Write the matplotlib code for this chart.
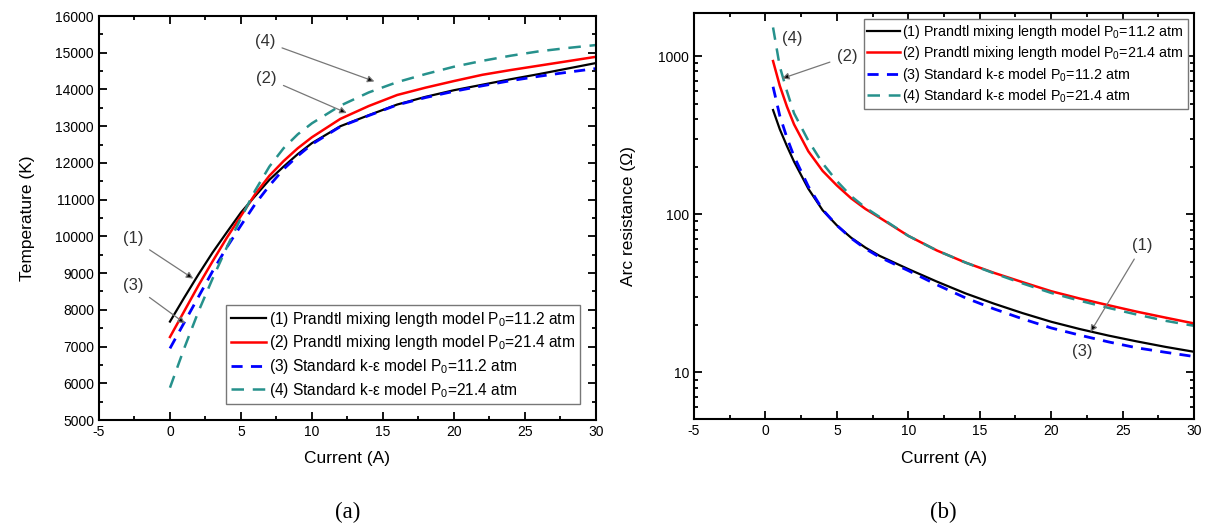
import numpy as np
import matplotlib.pyplot as plt
from matplotlib.ticker import MultipleLocator, LogLocator, NullFormatter

plt.rcParams['font.family'] = ['Liberation Sans', 'DejaVu Sans']
plt.rcParams['mathtext.fontset'] = 'custom'
plt.rcParams['mathtext.rm'] = 'Liberation Sans'
plt.rcParams['mathtext.it'] = 'Liberation Sans'
plt.rcParams['axes.unicode_minus'] = False

# (a) temperature vs current
cur_a = [0, 1, 2, 3, 4, 5, 6, 7, 8, 9, 10, 12, 14, 16, 18, 20, 22, 24, 26, 28, 30]
temp_prandtl_11 = [7680, 8330, 8960, 9560, 10110, 10650, 11100, 11540, 11900, 12240, 12540,
                   13000, 13300, 13590, 13800, 13980, 14130, 14280, 14420, 14570, 14720]
temp_prandtl_21 = [7260, 7960, 8660, 9320, 9960, 10560, 11150, 11650, 12050, 12400, 12700,
                   13200, 13550, 13850, 14050, 14230, 14400, 14530, 14650, 14770, 14890]
temp_ke_11 = [6950, 7650, 8350, 9050, 9700, 10300, 10880, 11380, 11830, 12190, 12510,
              12990, 13290, 13580, 13780, 13950, 14100, 14240, 14360, 14470, 14570]
temp_ke_21 = [5880, 6950, 7950, 8850, 9700, 10500, 11250, 11900, 12400, 12780, 13080,
              13560, 13920, 14200, 14420, 14620, 14780, 14920, 15040, 15130, 15210]

# (b) arc resistance vs current
cur_b = [0.53, 1, 1.5, 2, 3, 4, 5, 6, 7, 8, 10, 12, 14, 16, 18, 20, 22, 24, 26, 28, 30]
res_prandtl_11 = [456, 345, 270, 215, 145, 106, 85, 71, 61.5, 54.5, 45, 37.5, 31.6, 27.2, 23.7,
                  20.9, 18.8, 17.1, 15.7, 14.5, 13.5]
res_prandtl_21 = [930, 650, 480, 370, 250, 188, 152, 126, 108, 95, 73, 59, 49.5, 42.6, 37.2,
                  32.6, 29.3, 26.6, 24.2, 22.2, 20.4]
res_ke_11 = [640, 420, 305, 232, 150, 107, 85, 70.5, 60.5, 53.5, 44, 35.8, 29.6, 25.2, 21.8,
             19.1, 17.2, 15.6, 14.3, 13.4, 12.6]
res_ke_21 = [1517, 860, 600, 435, 292, 210, 162, 130, 110, 96, 73, 59, 49.5, 42.3, 36.5,
             31.8, 28.4, 25.6, 23.2, 21.2, 19.7]

labels = ['(1) Prandtl mixing length model P$_0$=11.2 atm',
          '(2) Prandtl mixing length model P$_0$=21.4 atm',
          '(3) Standard k-\u03b5 model P$_0$=11.2 atm',
          '(4) Standard k-\u03b5 model P$_0$=21.4 atm']

teal = '#26918c'
styles = [dict(color='black', lw=1.6),
          dict(color='red', lw=1.8),
          dict(color='blue', lw=2.0, dashes=(4, 3)),
          dict(color=teal, lw=1.8, dashes=(5, 3.5))]

fig = plt.figure(figsize=(12.1, 5.26), dpi=100)
ax1 = fig.add_axes([0.0818, 0.2015, 0.4107, 0.768])
ax2 = fig.add_axes([0.5736, 0.2028, 0.4132, 0.773])

for ys, st, lab in zip([temp_prandtl_11, temp_prandtl_21, temp_ke_11, temp_ke_21], styles, labels):
    ax1.plot(cur_a, ys, label=lab, **st)
for ys, st, lab in zip([res_prandtl_11, res_prandtl_21, res_ke_11, res_ke_21], styles, labels):
    ax2.plot(cur_b, ys, label=lab, **st)

ax1.set_xlim(-5, 30)
ax1.set_ylim(5000, 16000)
ax1.xaxis.set_major_locator(MultipleLocator(5))
ax1.xaxis.set_minor_locator(MultipleLocator(2.5))
ax1.yaxis.set_major_locator(MultipleLocator(1000))
ax1.yaxis.set_minor_locator(MultipleLocator(500))
ax1.set_xlabel('Current (A)', fontsize=12.5, labelpad=9)
ax1.set_ylabel('Temperature (K)', fontsize=12.5, labelpad=15)

ax2.set_yscale('log')
ax2.set_xlim(-5, 30)
ax2.set_ylim(5.05, 1880)
ax2.xaxis.set_major_locator(MultipleLocator(5))
ax2.xaxis.set_minor_locator(MultipleLocator(2.5))
ax2.yaxis.set_minor_locator(LogLocator(base=10, subs=np.arange(2, 10)))
ax2.yaxis.set_minor_formatter(NullFormatter())
ax2.set_yticks([10, 100, 1000])
ax2.set_yticklabels(['10', '100', '1000'])
ax2.set_xlabel('Current (A)', fontsize=12.5, labelpad=9)
ax2.set_ylabel('Arc resistance (\u03a9)', fontsize=12.5, labelpad=16)

for ax in (ax1, ax2):
    ax.tick_params(which='both', direction='in', top=True, right=True, labelsize=10, width=1.3)
    ax.tick_params(which='major', length=5.5)
    ax.tick_params(which='minor', length=3)
    for sp in ax.spines.values():
        sp.set_linewidth(1.5)

leg1 = ax1.legend(loc='lower right', fontsize=11.2, handlelength=2.25, handletextpad=0.25,
                  labelspacing=0.3, borderpad=0.3, borderaxespad=1.0, fancybox=False,
                  framealpha=1)
leg1.get_frame().set_edgecolor('#777777')
leg2 = ax2.legend(loc='upper right', fontsize=10.3, handlelength=2.25, handletextpad=0.2,
                  labelspacing=0.25, borderpad=0.25, borderaxespad=0.45, fancybox=False,
                  framealpha=1)
leg2.get_frame().set_edgecolor('#777777')

arrow = dict(arrowstyle='-|>', edgecolor='#777777', facecolor='black', lw=0.9,
             mutation_scale=10, shrinkA=3, shrinkB=0)
txt = dict(fontsize=12, ha='center', va='center', color='#333333')
ax1.annotate('(1)', xy=(1.64, 8850), xytext=(-2.6, 9930), arrowprops=arrow, **txt)
ax1.annotate('(3)', xy=(1.06, 7630), xytext=(-2.6, 8665), arrowprops=arrow, **txt)
ax1.annotate('(4)', xy=(14.4, 14220), xytext=(6.7, 15300), arrowprops=arrow, **txt)
ax1.annotate('(2)', xy=(12.45, 13360), xytext=(6.8, 14310), arrowprops=arrow, **txt)

ax2.text(1.85, 1294, '(4)', **txt)
ax2.annotate('(2)', xy=(1.16, 722), xytext=(5.7, 997), arrowprops=arrow, **txt)
ax2.annotate('(1)', xy=(22.75, 18.0), xytext=(26.4, 63.7), arrowprops=arrow, **txt)
ax2.text(22.2, 13.5, '(3)', **txt)

fig.text(0.287, 0.025, '(a)', fontsize=16.5, family='Liberation Serif', ha='center', va='center')
fig.text(0.780, 0.025, '(b)', fontsize=16.5, family='Liberation Serif', ha='center', va='center')

fig.savefig('out.png', dpi=100)
